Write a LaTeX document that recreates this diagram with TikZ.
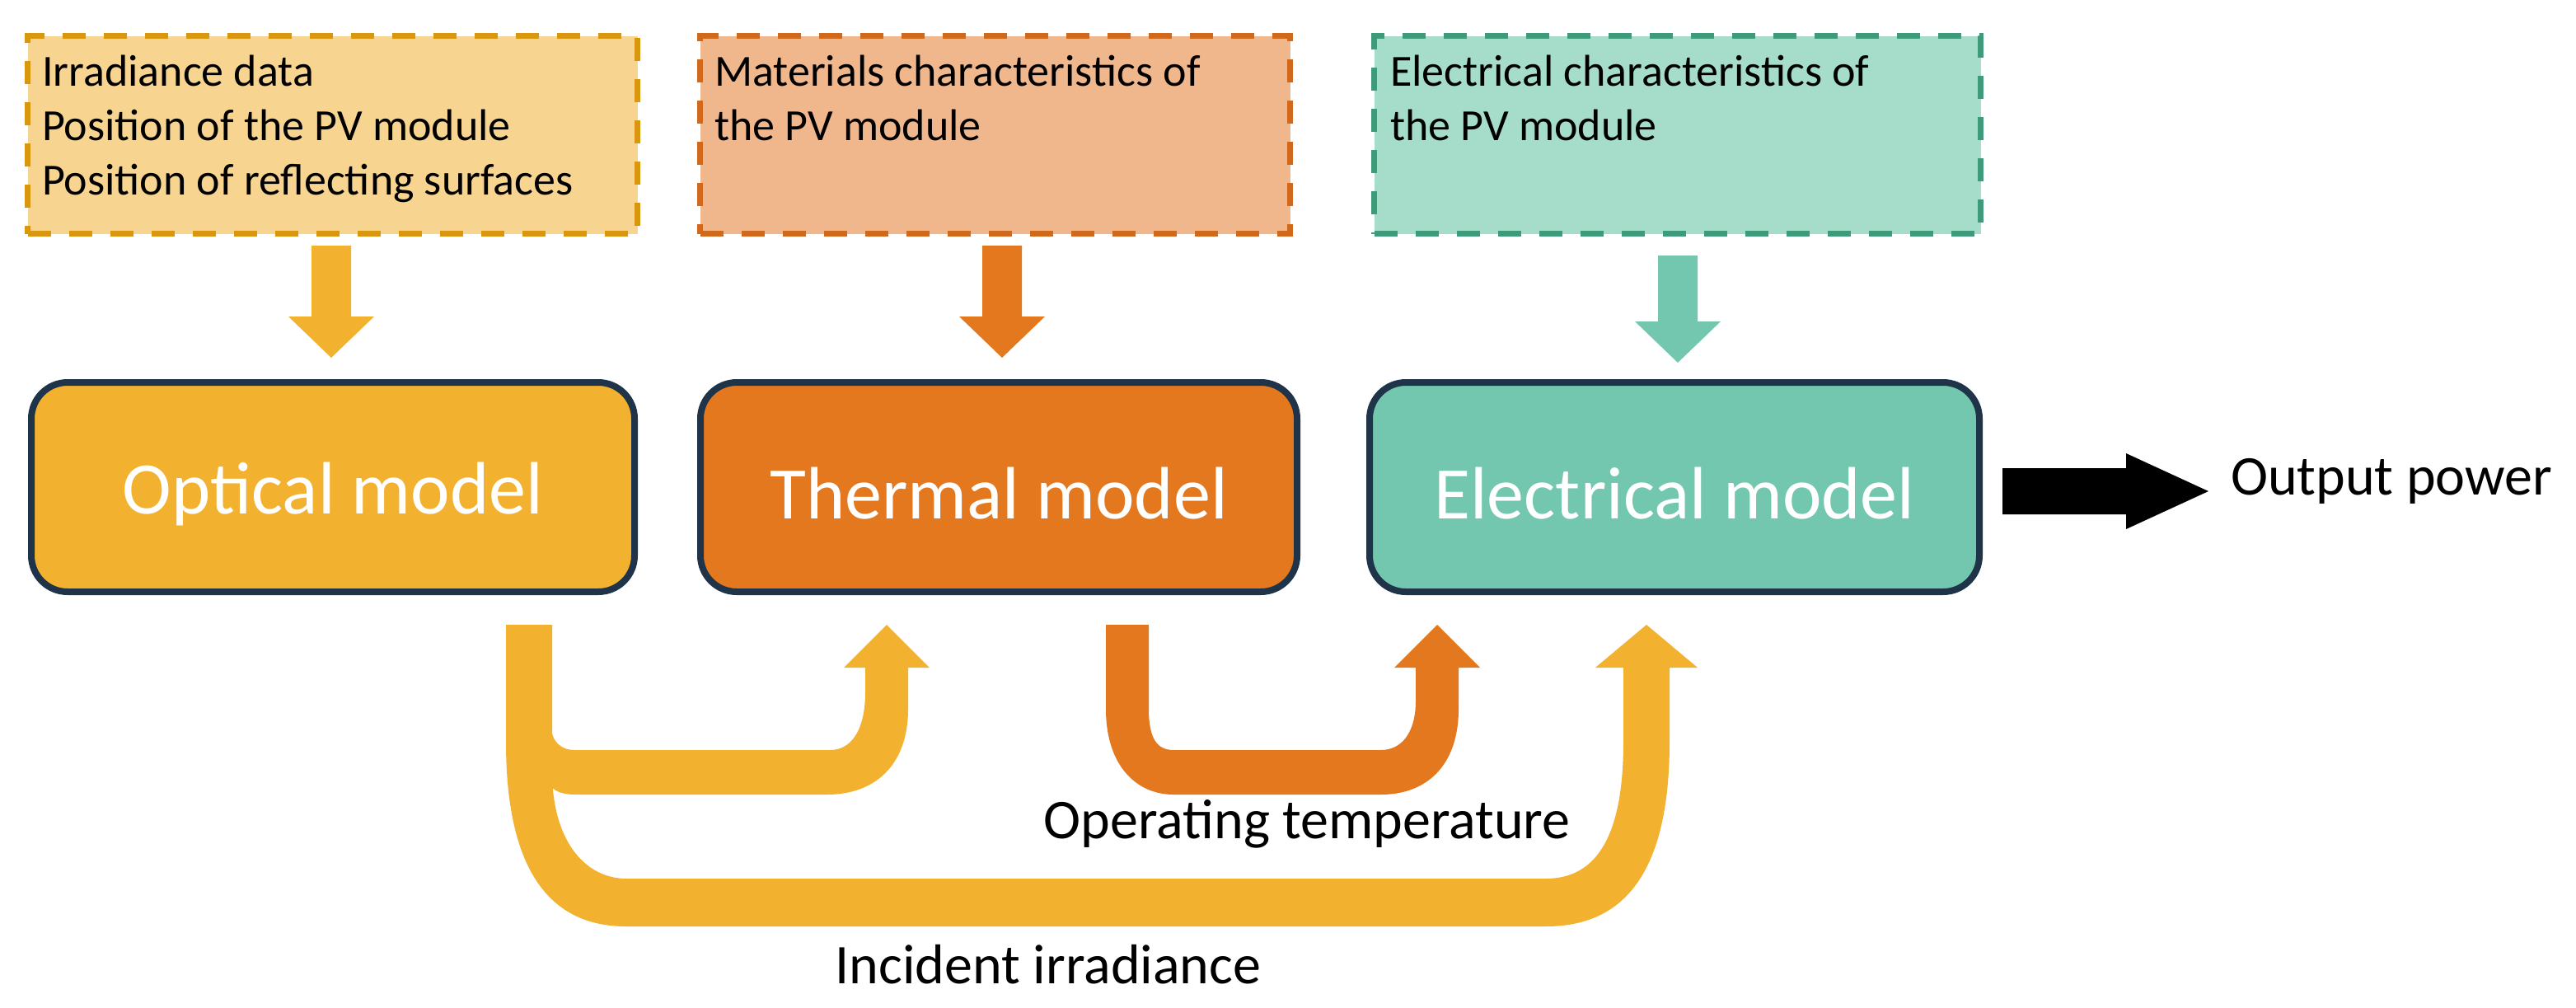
\documentclass[tikz,border=0pt]{standalone}
\usepackage{fontspec}
\setmainfont{Carlito}
\definecolor{yel}{HTML}{F2B12F}\definecolor{yelL}{HTML}{F7D591}\definecolor{yelD}{HTML}{D9970F}
\definecolor{ora}{HTML}{E3781F}\definecolor{oraL}{HTML}{F0B78C}\definecolor{oraD}{HTML}{D0691C}
\definecolor{tea}{HTML}{72C7AE}\definecolor{teaL}{HTML}{A5DCCA}\definecolor{teaD}{HTML}{3E9A78}
\definecolor{navy}{HTML}{1F3349}
\begin{document}
\begin{tikzpicture}[x=1pt,y=-1pt,
 inbox/.style={draw,line width=3.5pt,dash pattern=on 14pt off 11pt,minimum width=370pt,minimum height=120pt,anchor=north west,inner sep=0pt},
 model/.style={draw=navy,line width=4pt,rounded corners=22pt,minimum width=366pt,minimum height=127pt,anchor=north west},
 mtext/.style={text=white,font=\fontsize{45}{50}\selectfont},
 intext/.style={anchor=north west,align=left,font=\fontsize{27}{33}\selectfont},
 lbl/.style={font=\fontsize{34}{38}\selectfont}]
\useasboundingbox (0,0) rectangle (1563,611);
\node[inbox,draw=yelD,fill=yelL] (i1) at (15,20) {};
\node[inbox,draw=oraD,fill=oraL,minimum width=358pt] (i2) at (423,20) {};
\node[inbox,draw=teaD,fill=teaL,minimum width=368pt] (i3) at (832,20) {};
\node[intext] at (22,30) {Irradiance data\\Position of the PV module\\Position of reflecting surfaces};
\node[intext] at (430,30) {Materials characteristics of\\the PV module};
\node[intext] at (840,30) {Electrical characteristics of\\the PV module};
\node[model,fill=yel] (m1) at (17,230) {};
\node[model,fill=ora,minimum width=362pt] (m2) at (423,230) {};
\node[model,fill=tea,minimum width=370pt] (m3) at (829,230) {};
\node[mtext] at ([yshift=-4pt]m1.center) {Optical model};
\node[mtext] at ([yshift=-4pt]m2.center) {Thermal model};
\node[mtext] at ([yshift=-4pt]m3.center) {Electrical model};
% down arrows
\fill[yel] (189,149) -- (213,149) -- (213,192) -- (227,192) -- (201,217) -- (175,192) -- (189,192) -- cycle;
\fill[ora] (596,149) -- (620,149) -- (620,192) -- (634,192) -- (608,217) -- (582,192) -- (596,192) -- cycle;
\fill[tea] (1006,155) -- (1030,155) -- (1030,195) -- (1044,195) -- (1018,220) -- (992,195) -- (1006,195) -- cycle;
% output arrow
\fill[black] (1215,284) -- (1290,284) -- (1290,275) -- (1340,298) -- (1290,321) -- (1290,312) -- (1215,312) -- cycle;
\node[lbl,anchor=west] (out) at (1350,292) {Output power};
% yellow outer U
\fill[yel] (307,379) -- (307,450) .. controls (307,530) and (335,562) .. (380,562) -- (938,562) .. controls (985,562) and (1013,530) .. (1013,450) -- (1013,405) -- (1030,405) -- (999,379) -- (968,405) -- (985,405) -- (985,450) .. controls (985,505) and (970,533) .. (938,533) -- (380,533) .. controls (355,533) and (335,510) .. (335,468) -- (335,379) -- cycle;
% yellow inner U
\fill[yel] (334,440) .. controls (335,450) and (340,455) .. (349,455) -- (504,455) .. controls (515,455) and (525,445) .. (525,420) -- (525,405) -- (512,405) -- (538,379) -- (564,405) -- (551,405) -- (551,430) .. controls (551,465) and (530,482) .. (502,482) -- (349,482) .. controls (340,482) and (334,479) .. (334,475) -- cycle;
% orange U
\fill[ora] (671,379) -- (671,430) .. controls (671,465) and (690,482) .. (712,482) -- (838,482) .. controls (865,482) and (885,465) .. (885,430) -- (885,405) -- (898,405) -- (872,379) -- (846,405) -- (859,405) -- (859,425) .. controls (859,445) and (850,455) .. (838,455) -- (712,455) .. controls (702,455) and (697,448) .. (697,430) -- (697,379) -- cycle;
\node[lbl] (ot) at (793,500) {Operating temperature};
\node[lbl] (ir) at (636,585) {Incident irradiance};
\end{tikzpicture}
\end{document}
